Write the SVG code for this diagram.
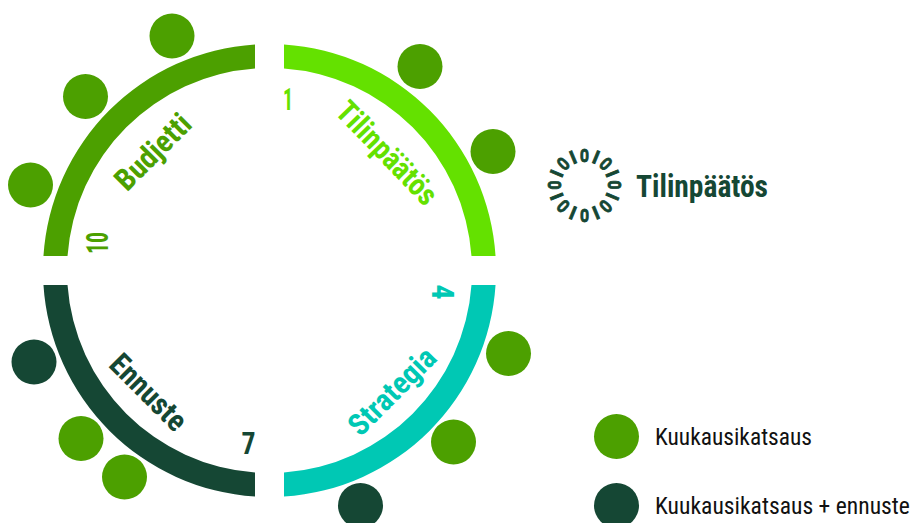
<svg xmlns="http://www.w3.org/2000/svg" width="913" height="523" viewBox="0 0 913 523">
<style>
text{font-family:"Roboto Condensed",Roboto,"Liberation Sans",sans-serif}
.b{font-weight:700;font-size:30.5px}
.lg{font-size:24.4px;fill:#111}
.g{fill:#4ca000}.l{fill:#64e100}.t{fill:#00c8b4}.d{fill:#154734}
.bin{font-weight:700;font-size:18.5px;fill:#154734;text-anchor:middle;stroke:#154734;stroke-width:.9}
</style>
<rect width="913" height="523" fill="#fff"/>
<g id="connectors"></g>
<g id="node-tilinpaatos">
<path class="l" d="M284 44.46A226.5 226.5 0 0 1 495.54 256H471.48A202.5 202.5 0 0 0 284 68.52Z"/>
<text class="b l" transform="translate(334 113) rotate(46)" textLength="131" lengthAdjust="spacingAndGlyphs">Tilinpäätös</text>
<text class="b l" x="283" y="110" textLength="10" lengthAdjust="spacingAndGlyphs">1</text>
</g>
<g id="node-budjetti">
<path class="g" d="M255 44.46A226.5 226.5 0 0 0 43.46 256H67.52A202.5 202.5 0 0 1 255 68.52Z"/>
<text class="b g" transform="translate(127 192.5) rotate(-45)" textLength="94" lengthAdjust="spacingAndGlyphs">Budjetti</text>
<text class="b g" transform="translate(108.3 254) rotate(-90)" textLength="22" lengthAdjust="spacingAndGlyphs">10</text>
</g>
<g id="node-ennuste">
<path class="d" d="M43.46 285A226.5 226.5 0 0 0 255 496.54V472.48A202.5 202.5 0 0 1 67.52 285Z"/>
<text class="b d" transform="translate(107.5 366) rotate(45)" textLength="95" lengthAdjust="spacingAndGlyphs">Ennuste</text>
<text class="b d" x="241.5" y="454" textLength="14" lengthAdjust="spacingAndGlyphs">7</text>
</g>
<g id="node-strategia">
<path class="t" d="M495.54 285A226.5 226.5 0 0 1 284 496.54V472.48A202.5 202.5 0 0 0 471.48 285Z"/>
<text class="b t" transform="translate(360.5 437.5) rotate(-45)" textLength="110" lengthAdjust="spacingAndGlyphs">Strategia</text>
<text class="b t" transform="translate(431.7 284.5) rotate(90)" textLength="15" lengthAdjust="spacingAndGlyphs">4</text>
</g>
<g id="reviews">
<circle class="g" cx="172" cy="36" r="22.5"/>
<circle class="g" cx="85.5" cy="96.5" r="22.5"/>
<circle class="g" cx="30.5" cy="185" r="22.5"/>
<circle class="g" cx="420" cy="66.5" r="22.5"/>
<circle class="g" cx="493" cy="151.5" r="22.5"/>
<circle class="d" cx="34" cy="362" r="22.5"/>
<circle class="g" cx="81" cy="438.5" r="22.5"/>
<circle class="g" cx="124.5" cy="477" r="22.5"/>
<circle class="g" cx="508.5" cy="353.5" r="22.5"/>
<circle class="g" cx="453.5" cy="442" r="22.5"/>
<circle class="d" cx="360.5" cy="505.5" r="22.5"/>
</g>
<g id="title">
<g transform="translate(584.5 185)">
<text class="bin" transform="rotate(0) translate(0 -23.5) scale(.8 1)">O</text>
<text class="bin" transform="rotate(22.5) translate(0 -23.5)">I</text>
<text class="bin" transform="rotate(45) translate(0 -23.5) scale(.8 1)">O</text>
<text class="bin" transform="rotate(67.5) translate(0 -23.5)">I</text>
<text class="bin" transform="rotate(90) translate(0 -23.5) scale(.8 1)">O</text>
<text class="bin" transform="rotate(112.5) translate(0 -23.5)">I</text>
<text class="bin" transform="rotate(135) translate(0 -23.5) scale(.8 1)">O</text>
<text class="bin" transform="rotate(157.5) translate(0 -23.5)">I</text>
<text class="bin" transform="rotate(180) translate(0 -23.5) scale(.8 1)">O</text>
<text class="bin" transform="rotate(202.5) translate(0 -23.5)">I</text>
<text class="bin" transform="rotate(225) translate(0 -23.5) scale(.8 1)">O</text>
<text class="bin" transform="rotate(247.5) translate(0 -23.5)">I</text>
<text class="bin" transform="rotate(270) translate(0 -23.5) scale(.8 1)">O</text>
<text class="bin" transform="rotate(292.5) translate(0 -23.5)">I</text>
<text class="bin" transform="rotate(315) translate(0 -23.5) scale(.8 1)">O</text>
<text class="bin" transform="rotate(337.5) translate(0 -23.5)">I</text>
</g>
<text class="b d" x="636" y="197" textLength="132" lengthAdjust="spacingAndGlyphs">Tilinpäätös</text>
</g>
<g id="legend-kuukausikatsaus">
<circle class="g" cx="616.5" cy="436.5" r="22.5"/>
<text class="lg" x="655" y="445" textLength="157" lengthAdjust="spacingAndGlyphs">Kuukausikatsaus</text>
</g>
<g id="legend-ennuste">
<circle class="d" cx="616.5" cy="505.5" r="22.5"/>
<text class="lg" transform="translate(655 514) scale(.833 1)" textLength="306" lengthAdjust="spacingAndGlyphs">Kuukausikatsaus + ennuste</text>
</g>
</svg>
